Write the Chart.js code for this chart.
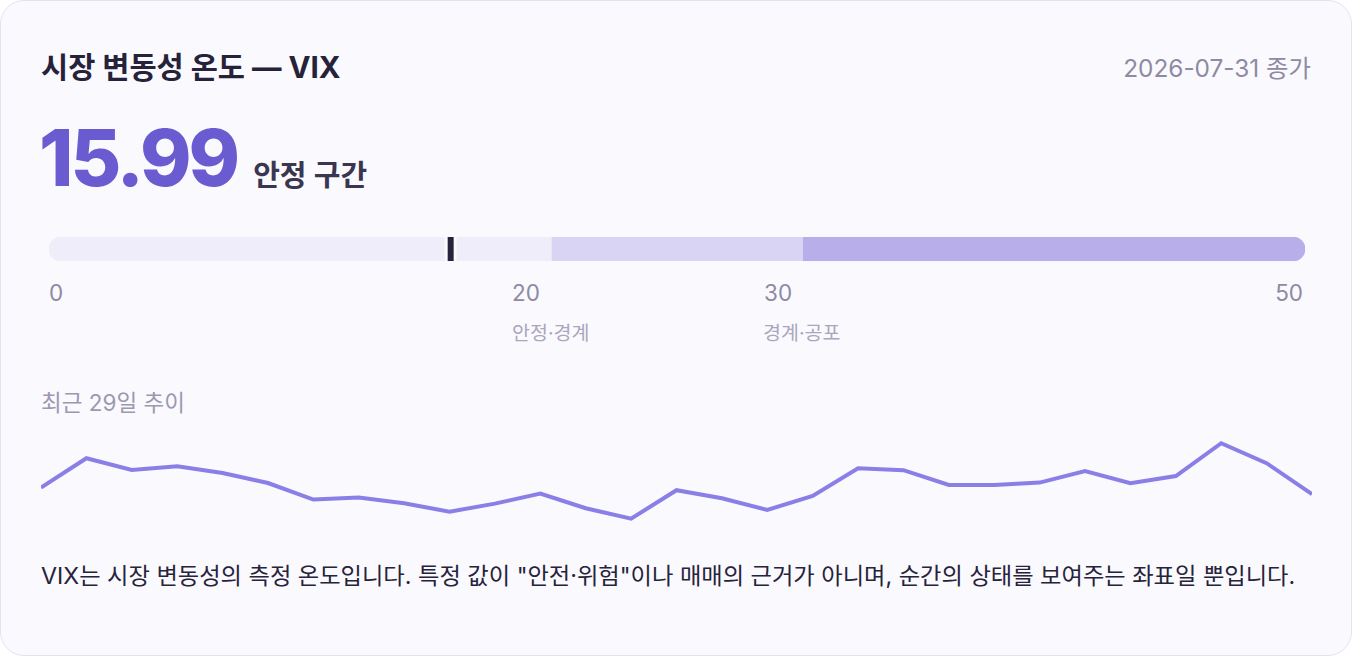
<!DOCTYPE html>
<html lang="ko">
<head>
    <meta charset="UTF-8">
    <title>시장 변동성 온도 — VIX</title>
    <script src="https://cdn.jsdelivr.net/npm/chart.js"></script>
    <style>
        html, body {
            margin: 0;
            padding: 0;
            background: #ffffff;
            font-family: Inter, "Noto Sans CJK KR", sans-serif;
        }

        .card {
            position: absolute;
            left: 0;
            top: 0;
            width: 1350px;
            height: 654px;
            border: 1px solid #e5e3f0;
            border-radius: 24px;
            background: #faf9fe;
            box-sizing: content-box;
        }

        .abs { position: absolute; white-space: nowrap; }

        .title {
            left: 40px; top: 49px;
            font-size: 29.5px; line-height: 34px;
            font-weight: 700; color: #25223a;
        }
        .date {
            right: 40px; top: 53px;
            font-size: 24.4px; line-height: 28px;
            color: #8e8aa3;
        }
        .big {
            left: 38px; top: 109px;
            display: flex; align-items: baseline;
        }
        .big .num {
            font-size: 78px; font-weight: 800; color: #6a5bd0;
            letter-spacing: -3px; line-height: 96px;
        }
        .big .zone {
            font-size: 29px; font-weight: 600; color: #3a3650;
            margin-left: 16px;
        }
        .tick {
            top: 279px; font-size: 22.5px; line-height: 26px; color: #8e8aa3;
        }
        .sub {
            top: 320px; font-size: 19.5px; line-height: 24px; color: #aaa6bc;
        }
        .caption {
            left: 40px; top: 389px; font-size: 22.5px; line-height: 26px; color: #9c98b0;
        }
        .note {
            left: 40px; top: 561px; font-size: 23.25px; line-height: 28px; color: #26233a;
        }
        #gaugeWrap { position: absolute; left: 48px; top: 236px; width: 1256px; height: 24px; }
        #trendWrap { position: absolute; left: 40px; top: 423px; width: 1271px; height: 110px; }
    </style>
</head>
<body>
<div class="card">
    <div class="abs title">시장 변동성 온도 — VIX</div>
    <div class="abs date">2026-07-31 종가</div>
    <div class="abs big"><span class="num">15.99</span><span class="zone">안정 구간</span></div>

    <div id="gaugeWrap"><canvas id="gauge"></canvas></div>

    <div class="abs tick" style="left:48px">0</div>
    <div class="abs tick" style="left:511px">20</div>
    <div class="abs tick" style="left:763px">30</div>
    <div class="abs tick" style="right:48px">50</div>
    <div class="abs sub" style="left:511px">안정·경계</div>
    <div class="abs sub" style="left:762px">경계·공포</div>

    <div class="abs caption">최근 29일 추이</div>
    <div id="trendWrap"><canvas id="trend"></canvas></div>

    <div class="abs note">VIX는 시장 변동성의 측정 온도입니다. 특정 값이 "안전·위험"이나 매매의 근거가 아니며, 순간의 상태를 보여주는 좌표일 뿐입니다.</div>
</div>

<script>
    // 현재 값과 구간
    const currentVix = 15.99;
    const zoneNames = ['안정', '경계', '공포'];
    const zoneSizes = [20, 10, 20];   // 0-20, 20-30, 30-50
    const zoneColors = ['#efedf9', '#d9d4f3', '#b8aeea'];

    // 최근 29일 종가
    const trendLabels = ['D-28', 'D-27', 'D-26', 'D-25', 'D-24', 'D-23', 'D-22', 'D-21', 'D-20', 'D-19',
        'D-18', 'D-17', 'D-16', 'D-15', 'D-14', 'D-13', 'D-12', 'D-11', 'D-10', 'D-9',
        'D-8', 'D-7', 'D-6', 'D-5', 'D-4', 'D-3', 'D-2', 'D-1', 'D-0'];
    const trendValues = [16.32, 17.79, 17.20, 17.39, 17.05, 16.55, 15.72, 15.82, 15.54, 15.12,
        15.52, 16.02, 15.29, 14.77, 16.19, 15.79, 15.20, 15.90, 17.29, 17.19,
        16.45, 16.45, 16.57, 17.15, 16.54, 16.90, 18.54, 17.54, 15.99];

    // 게이지 바 위 현재 위치 표시
    const markerPlugin = {
        id: 'marker',
        afterDatasetsDraw(chart) {
            const { ctx, chartArea, scales } = chart;
            const x = scales.x.getPixelForValue(currentVix);
            ctx.save();
            ctx.fillStyle = '#faf9fe';
            ctx.fillRect(x - 6, chartArea.top, 12, chartArea.bottom - chartArea.top);
            ctx.fillStyle = '#27233c';
            ctx.fillRect(x - 3, chartArea.top, 6, chartArea.bottom - chartArea.top);
            ctx.restore();
        }
    };

    const last = zoneSizes.length - 1;
    new Chart(document.getElementById('gauge'), {
        type: 'bar',
        data: {
            labels: ['VIX'],
            datasets: zoneSizes.map((size, i) => ({
                label: zoneNames[i],
                data: [size],
                backgroundColor: zoneColors[i],
                borderWidth: 0,
                borderSkipped: false,
                borderRadius: {
                    topLeft: i === 0 ? 12 : 0,
                    bottomLeft: i === 0 ? 12 : 0,
                    topRight: i === last ? 12 : 0,
                    bottomRight: i === last ? 12 : 0
                },
                barPercentage: 1,
                categoryPercentage: 1
            }))
        },
        options: {
            indexAxis: 'y',
            responsive: true,
            maintainAspectRatio: false,
            animation: false,
            layout: { padding: 0 },
            plugins: { legend: { display: false }, tooltip: { enabled: false } },
            scales: {
                x: { stacked: true, min: 0, max: 50, display: false },
                y: { stacked: true, display: false }
            }
        },
        plugins: [markerPlugin]
    });

    new Chart(document.getElementById('trend'), {
        type: 'line',
        data: {
            labels: trendLabels,
            datasets: [{
                label: 'VIX',
                data: trendValues,
                borderColor: '#8a7fe6',
                borderWidth: 4,
                pointRadius: 0,
                tension: 0,
                fill: false
            }]
        },
        options: {
            responsive: true,
            maintainAspectRatio: false,
            animation: false,
            layout: { padding: 0 },
            plugins: { legend: { display: false }, tooltip: { enabled: false } },
            scales: {
                x: { display: false, offset: false },
                y: { display: false, min: 14, max: 19.5 }
            }
        }
    });
</script>
</body>
</html>
